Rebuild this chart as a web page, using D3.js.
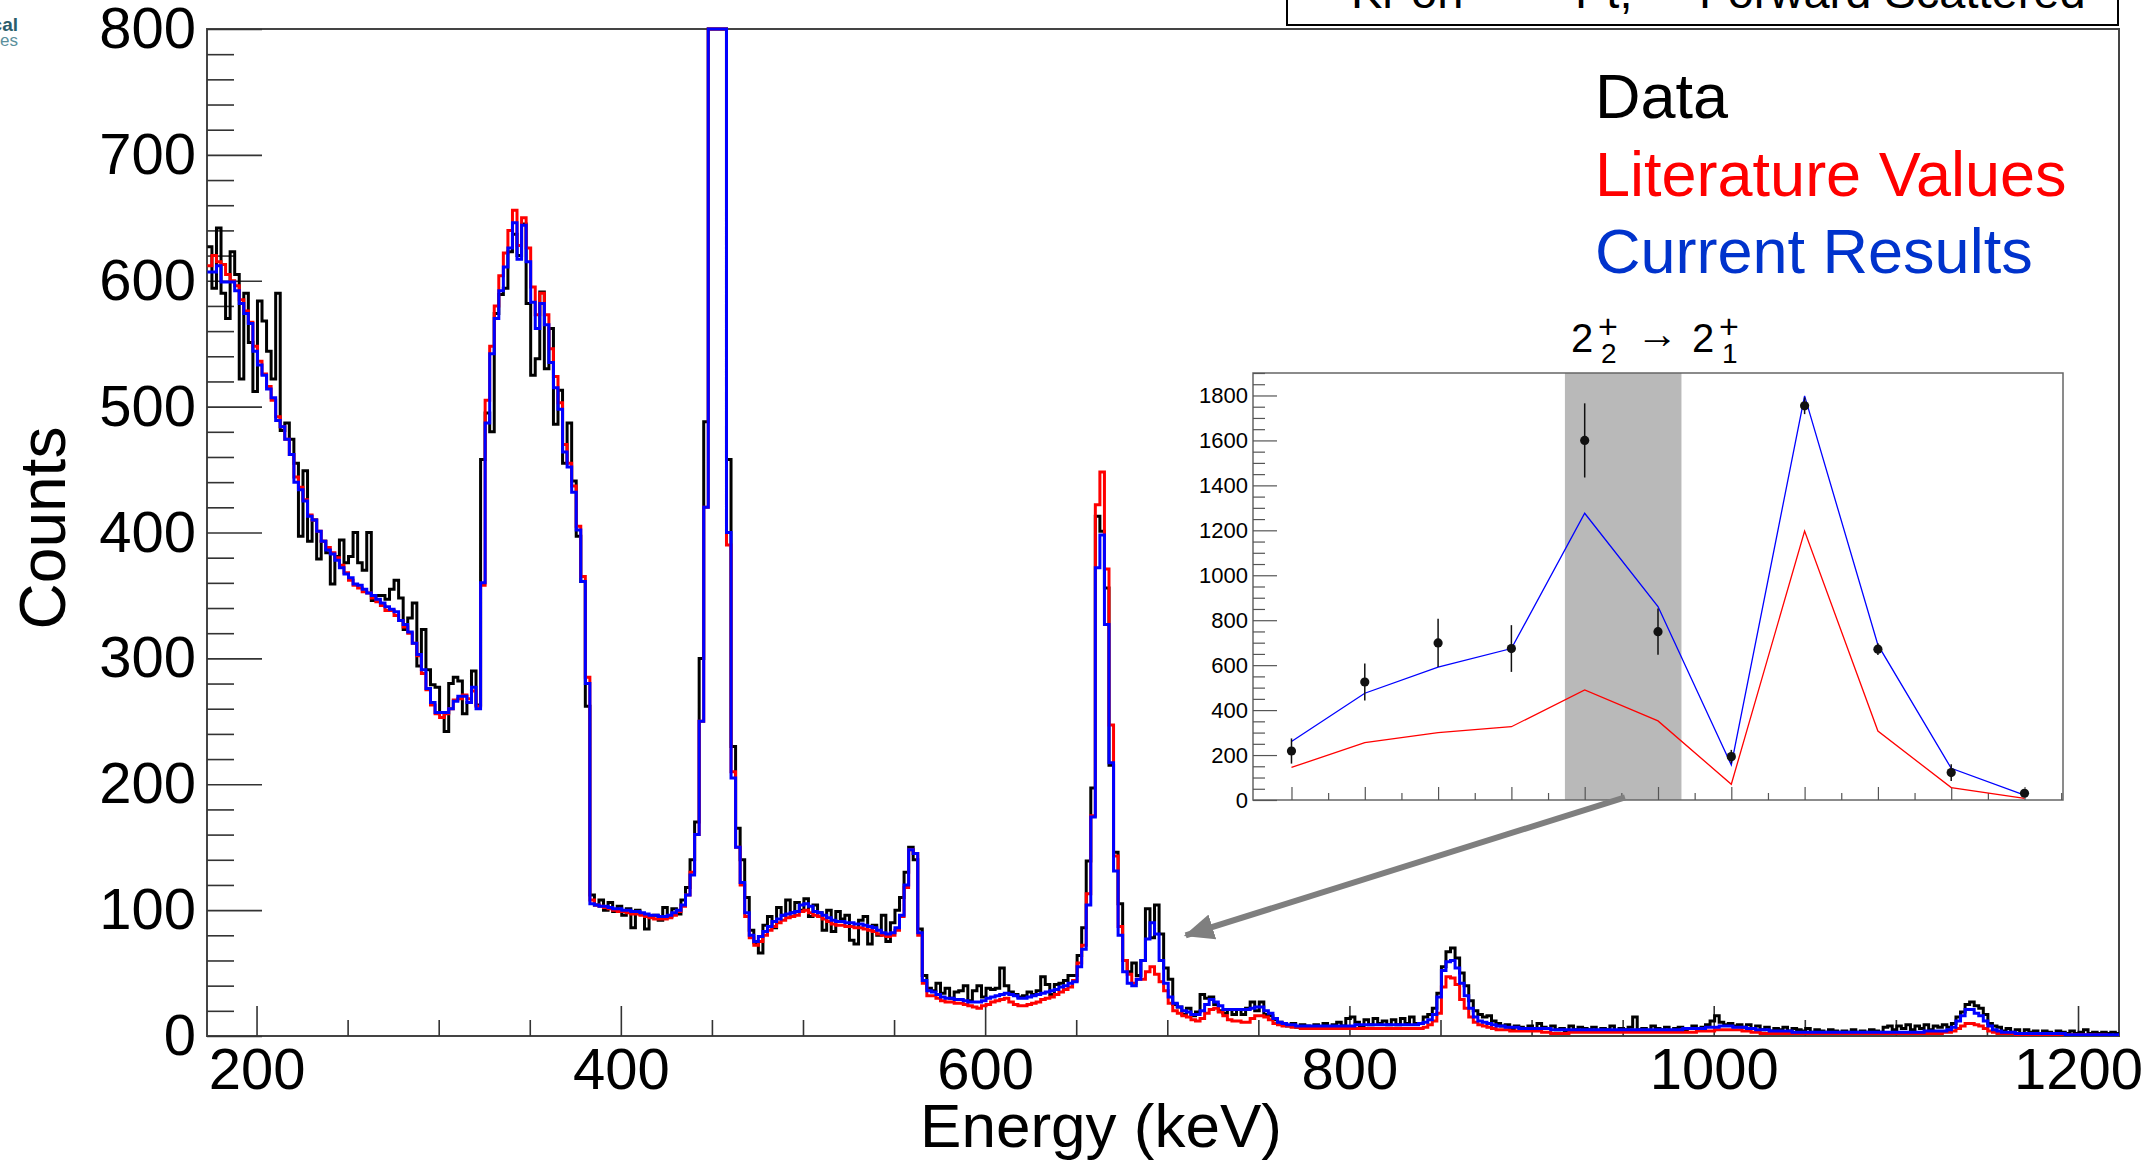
<!DOCTYPE html>
<html><head><meta charset="utf-8">
<script src="https://cdn.jsdelivr.net/npm/d3@7"></script>
<style>
body{margin:0;background:#fff;}
svg{display:block;}
text{font-family:"Liberation Sans",Arial,Helvetica,sans-serif;}
</style>
</head><body>
<svg id="chart" width="2151" height="1168"></svg>
<script>
// ---------------- DATA ----------------
const binStart = 173, binWidth = 2.5;   // keV
const dataCounts = [
627,594,642,590,570,623,605,522,590,551,
512,584,568,544,522,590,481,487,474,455,
397,449,393,410,379,393,384,359,381,394,
376,381,400,376,370,400,346,350,350,347,
355,362,348,323,332,344,294,323,291,279,
277,257,242,280,285,282,256,265,290,263,
458,495,480,574,589,594,623,637,620,645,
582,525,538,591,530,562,486,513,455,487,
441,397,361,262,112,104,108,100,106,99,
103,96,101,86,100,97,85,95,96,92,
102,95,101,97,108,118,140,170,300,488,
1800,3500,3000,1200,458,230,165,140,110,84,
74,66,88,95,86,102,96,108,98,106,
100,109,95,104,98,84,100,83,99,93,
96,76,73,92,95,73,88,80,96,75,
90,100,110,130,150,140,85,48,38,36,
42,34,38,30,35,36,40,28,36,40,
31,38,37,38,54,40,35,33,31,32,
35,33,36,47,41,33,41,42,44,48,
48,64,86,139,197,413,401,356,215,146,
105,60,51,58,48,60,101,78,104,81,
54,45,25,23,17,22,16,19,33,30,
31,25,20,18,21,17,21,17,22,27,
20,27,17,16,13,11,10,8,10,7,
9,8,6,9,7,10,6,9,11,8,
14,15,11,8,13,9,14,10,12,9,
13,9,14,10,15,10,10,15,17,22,
34,55,67,70,62,50,40,28,20,17,
15,16,12,10,8,9,6,8,7,6,
8,6,10,7,6,8,5,6,4,8,
5,7,6,5,7,4,6,5,8,4,
6,5,7,15,5,6,4,8,6,5,
7,4,6,7,5,6,8,6,7,9,
12,16,11,9,10,8,9,7,9,6,
8,5,7,4,6,5,7,4,6,5,
4,6,3,5,4,3,5,4,3,4,
3,5,3,4,3,5,4,3,7,8,
5,8,6,9,5,8,6,9,5,8,
7,9,7,10,15,19,25,27,24,22,
17,10,8,7,4,6,3,5,2,5,
3,4,2,4,3,2,4,3,2,4,
2,3,5,2,3,2,3,2,3,2];
const literatureCounts = [
612,620,615,613,605,600,596,585,576,567,
548,536,526,516,505,492,484,474,462,444,
436,426,414,410,401,393,388,384,380,374,
368,362,358,356,353,352,348,345,342,338,
338,334,330,325,320,312,302,288,275,263,
256,253,256,260,267,268,271,268,274,262,
358,505,548,580,604,622,640,656,628,650,
626,595,573,590,573,546,524,503,470,455,
437,405,365,285,108,104,103,102,101,100,
99,99,98,97,97,96,95,94,93,93,
93,94,96,99,103,112,130,160,250,420,
1700,3300,2900,1150,390,210,150,120,95,78,
72,75,80,84,87,90,92,94,95,96,
99,100,98,96,95,93,91,89,88,88,
87,87,86,86,85,84,83,81,80,79,
80,84,95,118,148,145,80,42,32,32,
30,28,27,27,26,26,25,24,23,22,
24,25,27,28,29,30,27,25,24,24,
25,26,27,29,30,31,33,35,37,39,
44,58,72,113,175,422,448,371,247,143,
87,60,49,42,45,45,51,55,49,43,
36,26,20,18,16,15,13,12,14,18,
21,22,19,16,13,12,12,11,11,14,
16,16,15,13,10,9,8,8,7,7,
6,6,6,6,6,6,6,6,6,6,
6,6,6,6,6,6,6,6,6,6,
6,6,6,6,6,6,6,7,9,12,
18,39,47,46,41,29,22,15,11,9,
8,7,6,5,5,5,4,4,4,4,
4,4,4,3,3,2,2,2,2,3,
3,3,3,3,3,3,3,3,3,3,
3,3,3,3,3,3,3,3,3,3,
3,3,3,3,3,3,3,4,4,4,
4,5,5,5,5,5,5,4,4,3,
3,2,2,2,2,2,2,2,2,2,
2,2,2,2,2,2,2,2,2,2,
2,2,2,2,2,2,2,2,2,2,
2,2,2,2,2,2,2,2,2,2,
2,3,3,4,6,8,10,10,9,8,
6,4,3,2,2,2,2,1,1,1,
1,1,1,1,1,1,1,1,1,1,
1,1,1,1,1,1,1,0,0,0];
const currentCounts = [
607,607,612,599,599,599,592,582,574,566,
544,533,525,514,507,489,484,474,462,440,
434,425,413,410,401,393,386,383,378,372,
367,364,359,358,355,352,350,347,344,341,
339,337,330,327,321,312,303,291,276,265,
257,257,257,260,266,270,270,265,277,260,
360,487,542,570,592,611,626,646,617,644,
615,583,562,582,565,535,515,498,464,452,
432,402,361,280,105,104,103,103,102,101,
101,100,100,99,99,98,97,96,96,95,
95,96,98,100,104,112,128,160,250,420,
1750,3400,2950,1180,400,205,150,122,98,80,
75,79,83,87,91,93,96,97,98,99,
104,105,103,99,98,96,94,92,91,91,
90,90,89,89,88,87,86,84,82,81,
82,86,96,120,148,145,82,44,36,35,
33,31,30,30,29,29,28,27,27,27,
28,30,31,32,33,34,33,32,30,30,
31,32,33,34,35,36,37,39,40,42,
43,55,69,104,174,372,398,327,217,131,
80,51,42,40,45,60,77,90,81,60,
42,31,26,23,20,19,17,17,20,25,
29,27,24,21,21,21,21,21,21,22,
23,23,20,18,14,11,10,9,9,8,
8,8,8,8,8,8,8,8,8,8,
8,8,9,9,9,9,9,9,9,9,
9,9,9,9,9,9,10,11,13,17,
31,52,59,60,54,42,32,22,15,12,
11,10,9,8,8,7,7,7,6,6,
6,6,6,6,6,5,5,5,5,5,
5,5,5,5,5,5,5,5,5,5,
5,5,5,5,5,5,5,5,5,5,
5,5,5,5,6,6,6,6,6,7,
7,7,8,8,8,7,7,7,6,6,
5,5,5,4,4,4,4,4,3,3,
3,3,3,3,3,3,3,3,3,3,
3,3,3,3,3,3,3,3,3,3,
3,3,3,3,3,3,3,4,4,4,
4,4,5,7,12,16,21,21,18,16,
12,8,5,4,3,3,3,2,2,2,
2,2,2,2,2,2,2,2,1,1,
1,1,1,1,1,1,1,1,1,1];

const xTickValues = [200,400,600,800,1000,1200];
const yTickValues = [0,100,200,300,400,500,600,700,800];

const legendLabels = ["Data","Literature Values","Current Results"];
const legendColors = ["#000000","#ff0000","#0033cc"];

// inset: 11 measurement points
const insetIndex = [0,1,2,3,4,5,6,7,8,9,10];
const insetData = [218,525,699,674,1600,749,193,1754,671,122,30];
const insetError = [56,82,107,104,165,103,30,37,26,37,8];
const insetCurrent = [260,475,591,674,1276,861,156,1798,690,141,22];
const insetLiterature = [145,255,300,326,490,352,70,1197,307,55,7];
const insetYTicks = [0,200,400,600,800,1000,1200,1400,1600,1800];
const insetBand = [3.73, 5.32];

// ---------------- LAYOUT ----------------
const svg = d3.select("#chart");
const P = {l:207, r:2119, t:29, b:1036};
const x = d3.scaleLinear().domain([172.8, 1222.5]).range([P.l, P.r]);
const y = d3.scaleLinear().domain([0, 800]).range([P.b, P.t]);

svg.append("rect").attr("width",2151).attr("height",1168).attr("fill","#fff");

// logo fragments
svg.append("text").attr("x",18).attr("y",31).attr("text-anchor","end")
  .attr("font-size",19).attr("font-weight","bold").attr("fill","#2b5d6b").text("cal");
svg.append("text").attr("x",18).attr("y",46).attr("text-anchor","end")
  .attr("font-size",17).attr("fill","#5a8f9c").text("ces");

// top title box (cut off)
svg.append("rect").attr("x",1287).attr("y",-20).attr("width",831).attr("height",45)
  .attr("fill","#fff").attr("stroke","#000").attr("stroke-width",2);
const tb = svg.append("g").attr("font-size",47).attr("fill","#000");
tb.append("text").attr("x",1351).attr("y",8).text("Kr on");
tb.append("text").attr("x",1575).attr("y",8).text("Pt,");
tb.append("text").attr("x",1699).attr("y",8).text("Forward Scattered");

// clip
svg.append("clipPath").attr("id","plotclip").append("rect")
  .attr("x",P.l).attr("y",P.t-3).attr("width",P.r-P.l).attr("height",P.b-P.t+3);

// frame
svg.append("rect").attr("x",P.l).attr("y",P.t).attr("width",P.r-P.l).attr("height",P.b-P.t)
  .attr("fill","none").attr("stroke","#444").attr("stroke-width",2);

// axes
const yMinor = d3.range(0,801,20).filter(v=>v%100!==0);
const xMinor = d3.range(200,1201,50).filter(v=>v%200!==0);
function styleAxis(g){ g.select(".domain").remove(); g.selectAll("line").attr("stroke","#333").attr("stroke-width",1.6); }
svg.append("g").attr("transform",`translate(${P.l},0)`)
  .call(d3.axisLeft(y).tickValues(yMinor).tickSize(-27).tickFormat(""))
  .call(styleAxis);
svg.append("g").attr("transform",`translate(${P.l},0)`)
  .call(d3.axisLeft(y).tickValues(yTickValues).tickSize(-55).tickPadding(11).tickFormat(d3.format("d")))
  .call(styleAxis)
  .call(g=>g.selectAll("text").attr("font-size",58).attr("fill","#000").attr("font-family","Liberation Sans, Arial, sans-serif"));
svg.append("g").attr("transform",`translate(0,${P.b})`)
  .call(d3.axisBottom(x).tickValues(xMinor).tickSize(-16).tickFormat(""))
  .call(styleAxis);
svg.append("g").attr("transform",`translate(0,${P.b})`)
  .call(d3.axisBottom(x).tickValues(xTickValues).tickSize(-30).tickPadding(12).tickFormat(d3.format("d")))
  .call(styleAxis)
  .call(g=>g.selectAll("text").attr("font-size",58).attr("fill","#000").attr("font-family","Liberation Sans, Arial, sans-serif"));

// axis titles
svg.append("text").attr("transform","translate(65,528) rotate(-90)").attr("text-anchor","middle")
  .attr("font-size",64).attr("fill","#000").text("Counts");
svg.append("text").attr("x",1101).attr("y",1147).attr("text-anchor","middle")
  .attr("font-size",62).attr("fill","#000").text("Energy (keV)");

// histograms
function histPoints(arr){
  const pts = arr.map((v,i)=>[binStart+i*binWidth, Math.min(v, y.domain()[1])]);
  pts.push([binStart+arr.length*binWidth, Math.min(arr[arr.length-1], y.domain()[1])]);
  return pts;
}
const stepLine = d3.line().x(d=>x(d[0])).y(d=>y(d[1])).curve(d3.curveStepAfter);
const hg = svg.append("g").attr("clip-path","url(#plotclip)").attr("fill","none")
  .attr("stroke-linejoin","miter");
[[dataCounts,"#000000"],[literatureCounts,"#ff0000"],[currentCounts,"#0000ff"]].forEach(([arr,c])=>{
  hg.append("path").attr("d",stepLine(histPoints(arr))).attr("stroke",c).attr("stroke-width",3);
});

// legend
legendLabels.forEach((t,i)=>{
  svg.append("text").attr("x",1595).attr("y",[118,196,273][i]).attr("font-size",63)
    .attr("fill",legendColors[i]).text(t);
});

// ---------------- INSET ----------------
const I = {l:1253, r:2063, t:373, b:800};
const xi = d3.scaleLinear().domain([-0.525, 10.525]).range([I.l, I.r]);
const yi = d3.scaleLinear().domain([0, 1900]).range([I.b, I.t]);
const ig = svg.append("g");
ig.append("rect").attr("x",I.l).attr("y",I.t).attr("width",I.r-I.l).attr("height",I.b-I.t).attr("fill","#fff");
ig.append("rect").attr("x",xi(insetBand[0])).attr("y",I.t).attr("width",xi(insetBand[1])-xi(insetBand[0]))
  .attr("height",I.b-I.t).attr("fill","#b9b9b9");
ig.append("rect").attr("x",I.l).attr("y",I.t).attr("width",I.r-I.l).attr("height",I.b-I.t)
  .attr("fill","none").attr("stroke","#666").attr("stroke-width",1.5);
function styleI(g){ g.select(".domain").remove(); g.selectAll("line").attr("stroke","#555").attr("stroke-width",1.2); }
ig.append("g").attr("transform",`translate(${I.l},0)`)
  .call(d3.axisLeft(yi).tickValues(d3.range(0,1901,50).filter(v=>v%200!==0)).tickSize(-12).tickFormat(""))
  .call(styleI);
ig.append("g").attr("transform",`translate(${I.l},0)`)
  .call(d3.axisLeft(yi).tickValues(insetYTicks).tickSize(-24).tickPadding(5).tickFormat(d3.format("d")))
  .call(styleI)
  .call(g=>g.selectAll("text").attr("font-size",22).attr("fill","#000").attr("font-family","Liberation Sans, Arial, sans-serif"));
ig.append("g").attr("transform",`translate(0,${I.b})`)
  .call(d3.axisBottom(xi).tickValues(d3.range(0.5,10.6,1)).tickSize(-7).tickFormat(""))
  .call(styleI);
ig.append("g").attr("transform",`translate(0,${I.b})`)
  .call(d3.axisBottom(xi).tickValues(insetIndex).tickSize(-13).tickFormat(""))
  .call(styleI);
const lin = d3.line().x((d,i)=>xi(insetIndex[i])).y(d=>yi(d));
ig.append("path").attr("d",lin(insetLiterature)).attr("fill","none").attr("stroke","#ff0000").attr("stroke-width",1.3);
ig.append("path").attr("d",lin(insetCurrent)).attr("fill","none").attr("stroke","#0000ff").attr("stroke-width",1.3);
insetData.forEach((v,i)=>{
  ig.append("line").attr("x1",xi(insetIndex[i])).attr("x2",xi(insetIndex[i]))
    .attr("y1",yi(v-insetError[i])).attr("y2",yi(v+insetError[i])).attr("stroke","#111").attr("stroke-width",1.5);
  ig.append("circle").attr("cx",xi(insetIndex[i])).attr("cy",yi(v)).attr("r",4.6).attr("fill","#111");
});

// inset title  2_2^+ -> 2_1^+  (one text element per level symbol, stacked sup/sub via tspans)
const tt = svg.append("g").attr("fill","#000").attr("font-family","DejaVu Serif, Liberation Serif, serif");
function levelLabel(x0, sub){
  const t = tt.append("text").attr("x",x0).attr("y",352).attr("font-size",40);
  t.append("tspan").text("2");
  t.append("tspan").attr("x",x0+27).attr("dy",-14).attr("font-size",34).text("+");
  t.append("tspan").attr("x",x0+30).attr("dy",25).attr("font-size",28).text(sub);
}
levelLabel(1571, "2");
levelLabel(1692, "1");
tt.append("text").attr("x",1657).attr("y",348).attr("font-size",42).attr("text-anchor","middle").text("→");

// gray arrow from inset to the 690 keV region
const defs = svg.append("defs");
defs.append("marker").attr("id","ah").attr("markerUnits","userSpaceOnUse")
  .attr("markerWidth",32).attr("markerHeight",26).attr("refX",28).attr("refY",13).attr("orient","auto")
  .append("path").attr("d","M0,0 L30,13 L0,26 Z").attr("fill","#7f7f7f");
const a0 = [xi(4.55), yi(12)], a1 = [x(708), y(79)];
const dx = a1[0]-a0[0], dy = a1[1]-a0[1], L = Math.hypot(dx,dy);
svg.append("line").attr("x1",a0[0]).attr("y1",a0[1])
  .attr("x2",a1[0]-dx/L*4).attr("y2",a1[1]-dy/L*4)
  .attr("stroke","#7f7f7f").attr("stroke-width",6).attr("marker-end","url(#ah)");
</script>
</body></html>
